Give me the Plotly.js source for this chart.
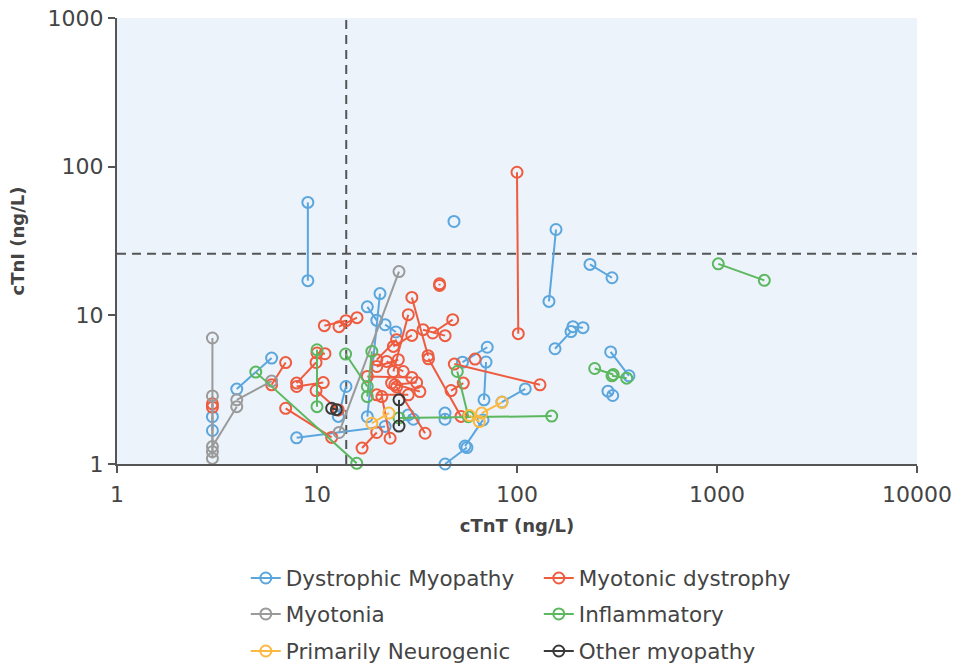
<!DOCTYPE html>
<html>
<head>
<meta charset="utf-8">
<script src="https://cdn.plot.ly/plotly-3.0.1.min.js"></script>
<style>html,body{margin:0;padding:0;background:#fff;}#chart{width:956px;height:666px;}</style>
</head>
<body>
<div id="chart"></div>
<script>
// Thresholds (dashed reference lines)
const cTnTThreshold = 14;
const cTnIThreshold = 26;

// Each inner array is one patient (paired measurements joined by a line)
const dystrophicT = [[9,9],[48.4],[156.7,144.5],[231.7,298.5],[154.9,186.2],[190.5,213.8],[294,363],[285,301],[110,84.1],[53.4,71],[70,68.4],[67.6,55],[56.2,43.7],[43.65,43.65],[28.6,30.3],[7.91,21.9],[13.96,12.78],[20.65,17.85],[17.85,19.9],[21.9,24.8],[3,3],[3.97,5.93]];
const dystrophicI = [[57.5,17.1],[42.8],[37.8,12.4],[22.0,17.9],[5.96,7.77],[8.39,8.26],[5.67,3.92],[3.09,2.89],[3.2,2.61],[4.84,6.1],[4.85,2.7],[1.98,1.32],[1.29,1.0],[2.2,2.0],[2.14,2.0],[1.5,1.79],[3.32,2.09],[14.0,2.08],[11.4,9.25],[8.65,7.73],[2.08,1.68],[3.19,5.16]];

const myotonicT = [[3,3],[5.93,6.97],[6.97,11.84],[7.91,9.89],[7.91,10.75],[10,10.96],[9.89,12.78],[10.88,13.96],[12.88,15.85],[28.6,24.1],[29.8,24.1],[25.0,19.9],[19.9,25.5],[17.85,29.8],[23.6,32.7],[24.5,31.5],[19.9,28.6],[21.1,23.2],[19.9,16.8],[25.0,34.7],[22.3,27.0],[33.9,43.7],[37.9,47.7],[29.8,35.9],[36.1,52.5],[48.6,130.3],[53.9,46.8],[61.7],[100,101.5],[41,41]];
const myotonicI = [[2.54,2.41],[3.41,4.81],[2.37,1.51],[3.50,4.82],[3.32,3.53],[5.58,5.52],[3.12,2.31],[8.52,9.21],[8.39,9.65],[10.1,4.19],[7.33,6.18],[6.86,5.03],[4.53,5.03],[3.88,3.82],[3.50,3.07],[3.41,3.53],[2.92,2.92],[2.84,1.49],[1.63,1.28],[3.3,1.61],[4.9,4.19],[8.01,7.3],[7.61,9.35],[13.2,5.35],[5.1,2.09],[4.7,3.41],[3.5,3.12],[5.08],[91.7,7.53],[16.3,15.9]];

const myotoniaT = [[3,3],[3,3],[3,3.97],[3.97,5.93],[25.7,12.9]];
const myotoniaI = [[7.04,1.09],[2.87,1.21],[1.31,2.43],[2.70,3.61],[19.7,1.63]];

const inflammatoryT = [[4.94,15.8],[10,10],[13.9,17.85],[18.8,17.85],[50.3,57.1],[25.7,149.1],[244.6,303],[298.5,353.6],[1015,1724]];
const inflammatoryI = [[4.15,1.01],[5.87,2.43],[5.49,3.32],[5.72,2.84],[4.19,2.08],[2.04,2.1],[4.39,4.0],[3.92,3.78],[22.2,17.2]];

const neurogenicT = [[84.1,66.6],[57.8,64.8],[18.8,22.9]];
const neurogenicI = [[2.6,2.2],[2.12,1.93],[1.88,2.2]];

const otherT = [[25.7,25.7],[11.84,12.5]];
const otherI = [[2.7,1.8],[2.37,2.32]];

const seriesNames = ["Dystrophic Myopathy","Myotonic dystrophy","Myotonia","Inflammatory","Primarily Neurogenic","Other myopathy"];
const seriesColors = ["#5ba6dd","#ef5b3e","#9a9a9a","#5cb85f","#fbb941","#3a3a3a"];
const seriesLegend = ["legend","legend","legend2","legend2","legend3","legend3"];

const xTicks = [1,10,100,1000,10000];
const yTicks = [1,10,100,1000];

function flatten(groups){
  const out = [];
  groups.forEach((g,i)=>{ if(i>0) out.push(null); g.forEach(v=>out.push(v)); });
  return out;
}

const seriesData = [
  [dystrophicT, dystrophicI],
  [myotonicT, myotonicI],
  [myotoniaT, myotoniaI],
  [inflammatoryT, inflammatoryI],
  [neurogenicT, neurogenicI],
  [otherT, otherI]
];

const traces = [];
const dashStyle = {color:'#555',width:2,dash:'9px,6px'};
traces.push({x:[cTnTThreshold,cTnTThreshold], y:[1,1000], mode:'lines', line:dashStyle, showlegend:false, hoverinfo:'skip'});
traces.push({x:[1,10000], y:[cTnIThreshold,cTnIThreshold], mode:'lines', line:dashStyle, showlegend:false, hoverinfo:'skip'});

seriesData.forEach((s,i)=>{
  traces.push({
    x: flatten(s[0]), y: flatten(s[1]),
    name: seriesNames[i],
    legend: seriesLegend[i],
    mode: 'lines+markers',
    connectgaps: false,
    cliponaxis: false,
    line: {color: seriesColors[i], width: 2},
    marker: {symbol:'circle-open', size: 11, color: seriesColors[i], line:{width:2, color: seriesColors[i]}}
  });
});

const fontFam = "DejaVu Sans, sans-serif";
function legendRow(y){
  return {
    orientation:'h', x:0.161, xanchor:'left', y:y, yanchor:'middle',
    entrywidth: 248, entrywidthmode:'pixels',
    font:{family:fontFam, size:21.5, color:'#444'}, bgcolor:'rgba(0,0,0,0)', traceorder:'normal'
  };
}
const layout = {
  width: 956, height: 666,
  margin: {l:117, r:39, t:18, b:202, autoexpand:false},
  paper_bgcolor: '#ffffff',
  plot_bgcolor: '#ecf3fb',
  font: {family: fontFam, color:'#444', size: 21},
  showlegend: true,
  xaxis: {
    type:'log', range:[0,4], tickvals: xTicks, ticktext: xTicks.map(String),
    showgrid:false, zeroline:false, showline:true, linecolor:'#555', linewidth:2,
    ticks:'outside', ticklen:7, tickcolor:'#555', tickwidth:2,
    tickfont:{size:22, color:'#444'}, ticklabelstandoff:3,
    title:{text:'<b>cTnT (ng/L)</b>', font:{size:18, color:'#444'}, standoff:13}
  },
  yaxis: {
    type:'log', range:[0,3], tickvals: yTicks, ticktext: yTicks.map(String),
    showgrid:false, zeroline:false, showline:true, linecolor:'#555', linewidth:2,
    ticks:'outside', ticklen:7, tickcolor:'#555', tickwidth:2,
    tickfont:{size:22, color:'#444'},
    title:{text:'<b>cTnI (ng/L)</b>', font:{size:18, color:'#444'}, standoff:18}
  },
  legend: legendRow(-0.2556),
  legend2: legendRow(-0.3363),
  legend3: legendRow(-0.4193)
};

Plotly.newPlot('chart', traces, layout, {staticPlot:true, displayModeBar:false});
</script>
</body>
</html>
